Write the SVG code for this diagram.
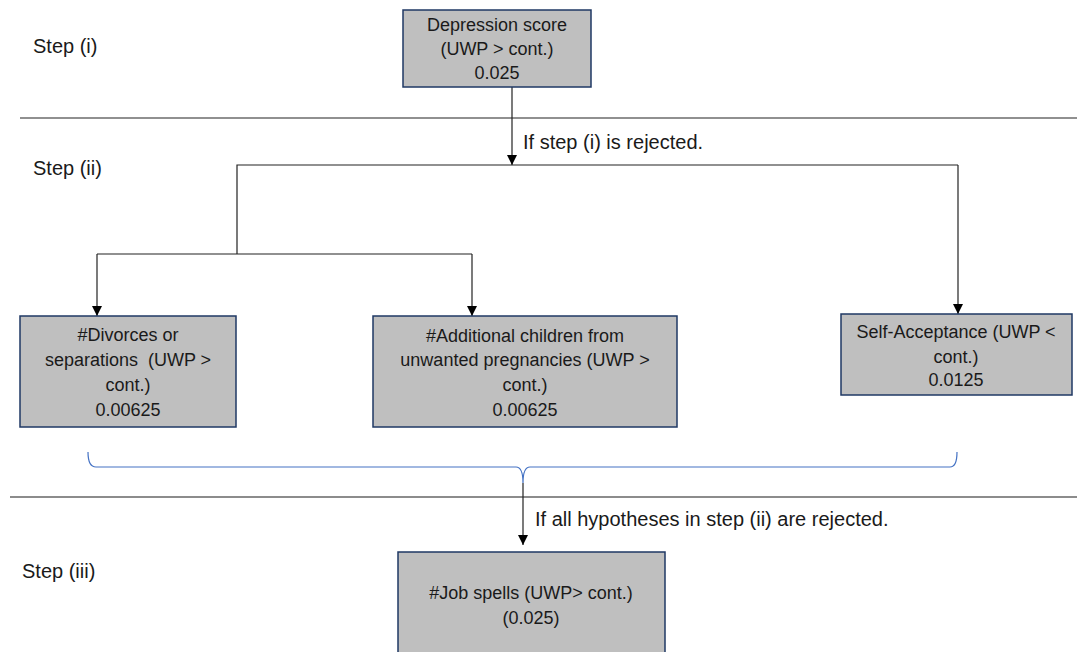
<svg xmlns="http://www.w3.org/2000/svg" width="1077" height="652" viewBox="0 0 1077 652">
<style>
text{font-family:"Liberation Sans",Arial,sans-serif;font-size:18px;fill:#1a1a1a}
.c{text-anchor:middle}
.pre{white-space:pre}
.lbl{font-size:20px}
.box{fill:#bfbfbf;stroke:#1f3864;stroke-width:1.5}
.ln{stroke:#222;stroke-width:1.2;fill:none}
.arr{stroke:#222;stroke-width:1.2;fill:none;marker-end:url(#ah)}
</style>
<defs>
<marker id="ah" viewBox="0 0 10 10" refX="10" refY="5" markerWidth="10" markerHeight="10" markerUnits="userSpaceOnUse" orient="auto">
<path d="M0,0 L10,5 L0,10 z" fill="#000"/>
</marker>
</defs>
<g id="steps">
<text class="lbl" x="33" y="53">Step (i)</text>
<text class="lbl" x="33" y="175">Step (ii)</text>
<text class="lbl" x="22" y="578">Step (iii)</text>
<line x1="20" y1="118" x2="1077" y2="118" stroke="#222" stroke-width="1.2"/>
<line x1="10" y1="497" x2="1077" y2="497" stroke="#666" stroke-width="1.5"/>
</g>
<g id="connectors">
<line class="arr" x1="512" y1="87" x2="512" y2="165"/>
<polyline class="ln" points="237,254 237,165 958,165"/>
<polyline class="arr" points="958,165 958,314"/>
<polyline class="ln" points="97,254 472,254"/>
<line class="arr" x1="97" y1="254" x2="97" y2="316"/>
<line class="arr" x1="472" y1="254" x2="472" y2="316"/>
<path d="M88,452 Q88,467 96,467 L516,467 Q523,467 523,483 Q523,467 530,467 L950,467 Q957,467 957,452" fill="none" stroke="#4472c4" stroke-width="1.2"/>
<line class="arr" x1="523" y1="483" x2="523" y2="545"/>
<text class="lbl" x="523" y="149">If step (i) is rejected.</text>
<text class="lbl" x="535" y="526">If all hypotheses in step (ii) are rejected.</text>
</g>
<g id="n-depression">
<rect class="box" x="403" y="10" width="188" height="77"/>
<text class="c" x="497" y="31">Depression score</text>
<text class="c" x="497" y="55">(UWP &gt; cont.)</text>
<text class="c" x="497" y="79">0.025</text>
</g>
<g id="n-divorces">
<rect class="box" x="20" y="316" width="216" height="111"/>
<text class="c" x="128" y="341">#Divorces or</text>
<text class="c pre" x="128" y="366">separations  (UWP &gt;</text>
<text class="c" x="128" y="391">cont.)</text>
<text class="c" x="128" y="416">0.00625</text>
</g>
<g id="n-children">
<rect class="box" x="373" y="316" width="304" height="111"/>
<text class="c" x="525" y="342">#Additional children from</text>
<text class="c" x="525" y="366">unwanted pregnancies (UWP &gt;</text>
<text class="c" x="525" y="391">cont.)</text>
<text class="c" x="525" y="416">0.00625</text>
</g>
<g id="n-selfacceptance">
<rect class="box" x="841" y="314" width="231" height="81"/>
<text class="c" x="956" y="338">Self-Acceptance (UWP &lt;</text>
<text class="c" x="956" y="363">cont.)</text>
<text class="c" x="956" y="386">0.0125</text>
</g>
<g id="n-jobspells">
<rect class="box" x="398" y="552" width="267" height="110"/>
<text class="c" x="531" y="599">#Job spells (UWP&gt; cont.)</text>
<text class="c" x="531" y="624">(0.025)</text>
</g>
</svg>
